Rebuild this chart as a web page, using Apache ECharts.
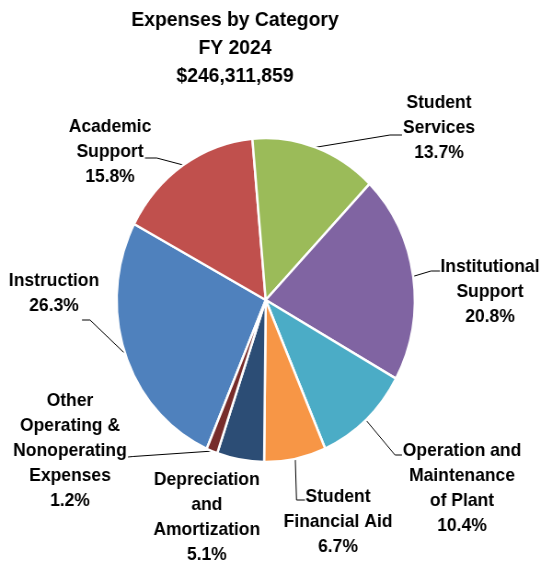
<!DOCTYPE html>
<html>
<head>
<meta charset="utf-8">
<script src="https://cdn.jsdelivr.net/npm/echarts/dist/echarts.min.js"></script>
<style>
html, body { margin: 0; padding: 0; background: #ffffff; overflow: hidden; }
#main { width: 589px; height: 566px; transform: scaleX(0.92); transform-origin: 0 0; }
</style>
</head>
<body>
<div id="main"></div>
<script>
// ---- data ----
const titleLines = ['Expenses by Category', 'FY 2024', '$246,311,859'];
const categories = [
  'Instruction',
  'Academic Support',
  'Student Services',
  'Institutional Support',
  'Operation and Maintenance of Plant',
  'Student Financial Aid',
  'Depreciation and Amortization',
  'Other Operating & Nonoperating Expenses'
];
const labelText = [
  'Instruction',
  'Academic\nSupport',
  'Student\nServices',
  'Institutional\nSupport',
  'Operation and\nMaintenance\nof Plant',
  'Student\nFinancial Aid',
  'Depreciation\nand\nAmortization',
  'Other\nOperating &\nNonoperating\nExpenses'
];
const percents = [26.3, 15.8, 13.7, 20.8, 10.4, 6.7, 5.1, 1.2];

// ---- styling / layout ----
const colors = ['#4F81BD', '#C0504D', '#9BBB59', '#8064A2', '#4BACC6', '#F79646', '#2C4D75', '#772C2A'];
const SX = 0.92; // horizontal squeeze of the whole picture
const FONT = "'Liberation Sans', Arial, sans-serif";
// label block centres (picture pixels)
const labelPos = [[54, 293], [110, 152], [439, 128], [490, 292], [462, 488], [338, 521.5], [206.8, 517], [70, 451]];
// leader line bend and end points (picture pixels); null = no line
const leader = [
  [[90, 320], [82, 320]],
  [[156.7, 158], [145, 158]],
  [[390, 135], [402, 135]],
  [[431, 271], [440, 271]],
  [[395, 455], [402, 455]],
  [[296.5, 500], [305, 500]],
  null,
  [[133, 456.5], [128, 457]]
];

const chart = echarts.init(document.getElementById('main'), null, { renderer: 'canvas' });
chart.setOption({
  backgroundColor: '#ffffff',
  animation: false,
  title: {
    text: titleLines.join('\n'),
    left: 235 / SX,
    top: 6,
    padding: 0,
    textAlign: 'center',
    textStyle: { fontFamily: FONT, fontSize: 21, fontWeight: 'bold', color: '#000000', lineHeight: 28 }
  },
  series: [{
    type: 'pie',
    center: [265.7 / SX, 300],
    radius: 162,
    startAngle: 246.7,
    clockwise: true,
    avoidLabelOverlap: false,
    percentPrecision: 1,
    emphasis: { disabled: true },
    itemStyle: { borderColor: '#ffffff', borderWidth: 2.5 },
    label: {
      show: true,
      position: 'outside',
      formatter: p => labelText[p.dataIndex] + '\n' + p.value.toFixed(1) + '%',
      fontFamily: FONT,
      fontSize: 19,
      fontWeight: 'bold',
      color: '#000000',
      lineHeight: 25,
      align: 'center'
    },
    labelLine: { show: true, length: 10, length2: 10, smooth: false, lineStyle: { color: '#000000', width: 1 } },
    labelLayout: function (params) {
      const i = params.dataIndex;
      const out = { x: labelPos[i][0] / SX, y: labelPos[i][1], align: 'center', verticalAlign: 'middle' };
      if (leader[i] && params.labelLinePoints) {
        const p0 = params.labelLinePoints[0];
        out.labelLinePoints = [
          [p0[0], p0[1]],
          [leader[i][0][0] / SX, leader[i][0][1]],
          [leader[i][1][0] / SX, leader[i][1][1]]
        ];
      }
      return out;
    },
    data: categories.map((c, i) => ({
      name: c,
      value: percents[i],
      itemStyle: { color: colors[i] },
      labelLine: { show: leader[i] != null }
    }))
  }]
});
</script>
</body>
</html>
